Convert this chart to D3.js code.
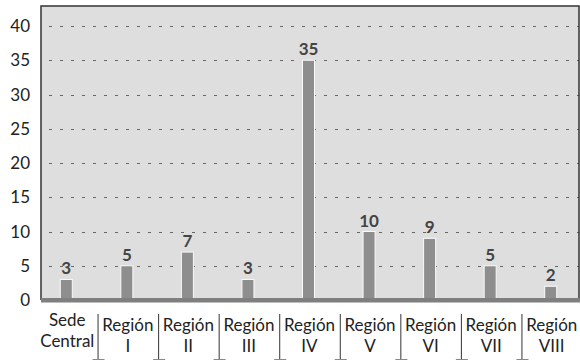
<!DOCTYPE html>
<html>
<head>
<meta charset="utf-8">
<script src="https://cdn.jsdelivr.net/npm/d3@7"></script>
<style>
  body { margin: 0; background: #fff; }
  svg { display: block; font-family: Lato, "Open Sans", sans-serif; }
</style>
</head>
<body>
<svg id="chart" width="580" height="360"></svg>
<script>
// data
const categories = ["Sede Central", "Región I", "Región II", "Región III", "Región IV",
                    "Región V", "Región VI", "Región VII", "Región VIII"];
const values = [3, 5, 7, 3, 35, 10, 9, 5, 2];
const yTicks = [0, 5, 10, 15, 20, 25, 30, 35, 40];

const svg = d3.select("#chart");

// plot box
const PLOT = { left: 41, right: 579, top: 6, bottom: 300 };

const xScale = d3.scaleBand()
  .domain(categories)
  .range([36, 581])
  .padding(0);

const yScale = d3.scaleLinear()
  .domain([0, 40])
  .range([PLOT.bottom, 26]);

const barW = 12;

// background
svg.append("rect")
  .attr("x", PLOT.left)
  .attr("y", PLOT.top)
  .attr("width", PLOT.right - PLOT.left)
  .attr("height", PLOT.bottom - PLOT.top)
  .attr("fill", "#dedede");

// dotted gridlines
svg.append("g")
  .selectAll("line")
  .data(yTicks.filter(d => d > 0))
  .enter()
  .append("line")
  .attr("x1", PLOT.left + 8)
  .attr("x2", PLOT.right)
  .attr("y1", d => Math.round(yScale(d)) + 0.5)
  .attr("y2", d => Math.round(yScale(d)) + 0.5)
  .attr("stroke", "#666")
  .attr("stroke-width", 1)
  .attr("stroke-dasharray", "3,8");

// frame: top, right, left
svg.append("path")
  .attr("d", `M${PLOT.left},${PLOT.bottom} V${PLOT.top} H${PLOT.right} V${PLOT.bottom}`)
  .attr("fill", "none")
  .attr("stroke", "#333")
  .attr("stroke-width", 1.5);

// bars
svg.append("g")
  .selectAll("rect")
  .data(values)
  .enter()
  .append("rect")
  .attr("x", (d, i) => xScale(categories[i]) + (xScale.bandwidth() - barW) / 2)
  .attr("y", d => yScale(d))
  .attr("width", barW)
  .attr("height", d => yScale(0) - yScale(d))
  .attr("fill", "#8e8e8e")
  .attr("stroke", "#fafafa")
  .attr("stroke-width", 1);

// thick baseline
svg.append("rect")
  .attr("x", PLOT.left)
  .attr("y", yScale(0) - 2)
  .attr("width", PLOT.right - PLOT.left + 1)
  .attr("height", 4.5)
  .attr("fill", "#7f7f7f");

// value labels
svg.append("g")
  .selectAll("text")
  .data(values)
  .enter()
  .append("text")
  .attr("x", (d, i) => xScale(categories[i]) + xScale.bandwidth() / 2)
  .attr("y", d => yScale(d) - 5)
  .attr("text-anchor", "middle")
  .style("font-size", "17px")
  .style("font-weight", "bold")
  .style("fill", "#444")
  .text(d => d);

// y tick labels
svg.append("g")
  .selectAll("text")
  .data(yTicks)
  .enter()
  .append("text")
  .attr("x", 30)
  .attr("y", d => yScale(d))
  .attr("dy", "0.36em")
  .attr("text-anchor", "end")
  .style("font-size", "17px")
  .style("fill", "#222")
  .text(d => d);

// category labels (two lines each)
const labels = svg.append("g")
  .selectAll("text")
  .data(categories)
  .enter()
  .append("text")
  .attr("text-anchor", "middle")
  .style("font-size", "17px")
  .style("fill", "#222");

labels.each(function (d, i) {
  const parts = d.split(" ");
  const cx = xScale(d) + xScale.bandwidth() / 2 + 1;
  const shift = i === 0 ? -5 : 0;
  d3.select(this).append("tspan")
    .attr("x", cx).attr("y", 331 + shift).text(parts[0]);
  d3.select(this).append("tspan")
    .attr("x", cx).attr("y", 352 + shift).text(parts.slice(1).join(" "));
});

// separators between labels
const seps = svg.append("g")
  .selectAll("g")
  .data(categories.slice(1))
  .enter()
  .append("g");

seps.append("line")
  .attr("x1", d => xScale(d) + 1.5)
  .attr("x2", d => xScale(d) + 1.5)
  .attr("y1", 314)
  .attr("y2", 360)
  .attr("stroke", "#333")
  .attr("stroke-width", 1);

seps.append("line")
  .attr("x1", d => xScale(d) - 4)
  .attr("x2", d => xScale(d) + 8)
  .attr("y1", 359.5)
  .attr("y2", 359.5)
  .attr("stroke", "#888")
  .attr("stroke-width", 1);
</script>
</body>
</html>
